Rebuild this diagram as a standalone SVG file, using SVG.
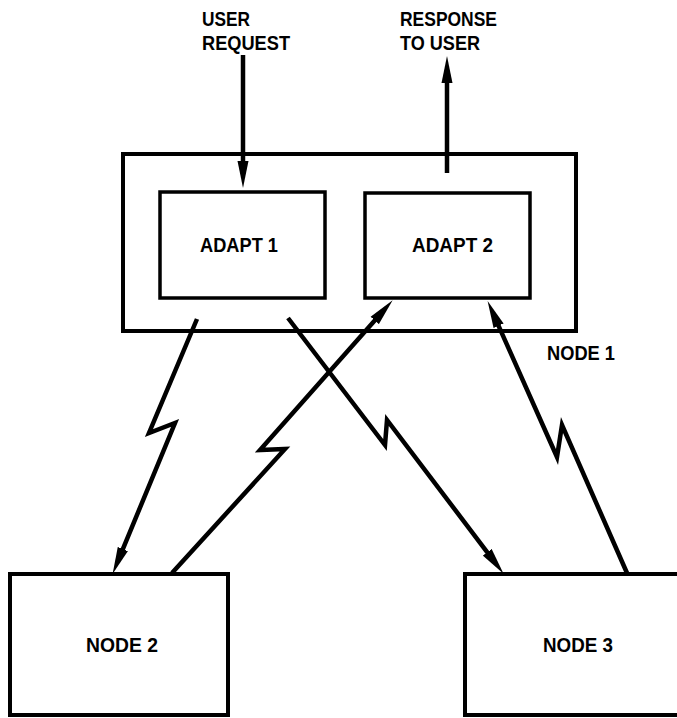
<svg xmlns="http://www.w3.org/2000/svg" width="677" height="718" viewBox="0 0 677 718">
  <style>
    .box { fill: none; stroke: #000; stroke-width: 4; }
    .inner { fill: none; stroke: #000; stroke-width: 3.5; }
    .lbl { font-family: "Liberation Sans", Arial, sans-serif; font-weight: bold; font-size: 19.5px; fill: #000; }
    .conn { fill: none; stroke: #000; stroke-width: 4.5; stroke-linejoin: miter; stroke-miterlimit: 10; marker-end: url(#arrow); }
  </style>
  <defs>
    <marker id="arrow" markerUnits="userSpaceOnUse" markerWidth="28" markerHeight="12" viewBox="0 0 28 12" refX="12" refY="6" orient="auto">
      <path d="M0,0.5 L27,6 L0,11.5 Z" fill="#000"/>
    </marker>
  </defs>
  <rect width="677" height="718" fill="#fff"/>

  <g id="node1">
    <rect class="box" x="123" y="154" width="453" height="177"/>
    <text class="lbl" x="547" y="360" textLength="68" lengthAdjust="spacingAndGlyphs">NODE 1</text>
  </g>
  <g id="adapt1">
    <rect class="inner" x="160" y="192" width="165" height="106"/>
    <text class="lbl" x="200" y="252" textLength="78" lengthAdjust="spacingAndGlyphs">ADAPT 1</text>
  </g>
  <g id="adapt2">
    <rect class="inner" x="365" y="193" width="165" height="105"/>
    <text class="lbl" x="412" y="252" textLength="81" lengthAdjust="spacingAndGlyphs">ADAPT 2</text>
  </g>
  <g id="node2">
    <rect class="box" x="10" y="574" width="218" height="141"/>
    <text class="lbl" x="86" y="652" textLength="72" lengthAdjust="spacingAndGlyphs">NODE 2</text>
  </g>
  <g id="node3">
    <rect class="box" x="465" y="574" width="222" height="141"/>
    <text class="lbl" x="543" y="652" textLength="70" lengthAdjust="spacingAndGlyphs">NODE 3</text>
  </g>
  <g id="user-labels">
    <text class="lbl" x="202" y="26" textLength="48" lengthAdjust="spacingAndGlyphs">USER</text>
    <text class="lbl" x="202" y="50" textLength="88" lengthAdjust="spacingAndGlyphs">REQUEST</text>
    <text class="lbl" x="400" y="26" textLength="97" lengthAdjust="spacingAndGlyphs">RESPONSE</text>
    <text class="lbl" x="400" y="50" textLength="80" lengthAdjust="spacingAndGlyphs">TO USER</text>
  </g>

  <g id="connectors">
    <path class="conn" d="M243,55 L243,173"/>
    <path class="conn" d="M447,173 L447,71"/>
    <path class="conn" d="M197,319 L149,433 L175,423 L118.3,560.1"/>
    <path class="conn" d="M288,318 L385,445 L387,420 L494.5,561.8"/>
    <path class="conn" d="M172,573 L285,449 L260,450 L382.7,311.5"/>
    <path class="conn" d="M627,573 L562,425 L557,457 L493.7,314.8"/>
  </g>
</svg>
